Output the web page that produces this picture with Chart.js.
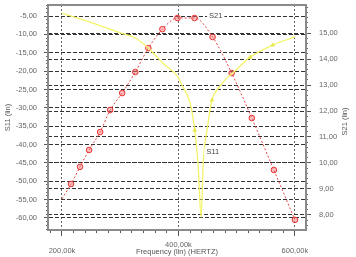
<!DOCTYPE html>
<html><head><meta charset="utf-8">
<script src="https://cdn.jsdelivr.net/npm/chart.js@4/dist/chart.umd.min.js"></script>
<style>html,body{margin:0;padding:0;background:#fff;}#wrap{width:356px;height:257px;}</style>
</head><body><div id="wrap"><canvas id="c" width="356" height="257"></canvas></div>
<script>
// ---- data ----
const xTicks = [200, 400, 600];
const s11Ticks = [-5, -10, -15, -20, -25, -30, -35, -40, -45, -50, -55, -60];
const s21Ticks = [8, 9, 10, 11, 12, 13, 14, 15];

const s11Freq = [200, 265, 300, 326, 348, 373, 399, 406, 420, 428, 433.5, 439, 442.5, 449, 457.5, 466, 480, 499, 523, 562, 600];
const s11Vals = [-4.2, -7.6, -9.6, -11.0, -13.7, -17.8, -21.6, -23.8, -28.7, -36.1, -45.0, -59.8, -45.0, -36.1, -27.9, -25.2, -22.4, -19.7, -16.2, -12.9, -10.7];
const s11Marks = [0, 0, 0, 0, 0, 0, 0, 0, 0, 1, 0, 0, 0, 0, 1, 0, 0, 0, 1, 1, 0];

const s21Freq = [200, 215.5, 231, 246.5, 265.5, 282.8, 303.4, 325.9, 348.3, 372.4, 398.3, 427.6, 458.6, 491.4, 525.9, 563.8, 600];
const s21Vals = [8.62, 9.19, 9.85, 10.5, 11.19, 12.04, 12.69, 13.5, 14.42, 15.15, 15.58, 15.58, 14.85, 13.46, 11.73, 9.73, 7.81];
const s21Marks = [0, 1, 1, 1, 1, 1, 1, 1, 1, 1, 1, 1, 1, 1, 1, 1, 1];

const noteText = ['S21', 'S11'];
const noteFreq = [464, 459];
const noteVal = [15.65, -42.0];
const noteAxis = ['y2', 'y'];

// ---- helpers ----
const FONT = 'Liberation Sans, Arial, sans-serif';
const fmt = v => Number(v).toFixed(2).replace('.', ',');
const onGrid = (v, step) => Math.abs(v / step - Math.round(v / step)) < 1e-6;
const noPad = s => { s.paddingTop = 0; s.paddingBottom = 0; };

const framePlugin = {
  id: 'frame',
  afterDatasetsDraw(chart) {
    const {ctx, chartArea: a} = chart;
    ctx.save();
    ctx.strokeStyle = '#8a8a8a';
    ctx.lineWidth = 2;
    ctx.strokeRect(a.left, a.top, a.right - a.left, a.bottom - a.top);
    ctx.restore();
  }
};
const notesPlugin = {
  id: 'notes',
  afterDatasetsDraw(chart) {
    const {ctx, scales} = chart;
    ctx.save();
    ctx.font = '7.5px ' + FONT;
    ctx.textAlign = 'center';
    ctx.textBaseline = 'middle';
    noteText.forEach((t, i) => {
      const x = scales.x.getPixelForValue(noteFreq[i]);
      const y = scales[noteAxis[i]].getPixelForValue(noteVal[i]);
      const w = ctx.measureText(t).width;
      ctx.fillStyle = '#fff';
      ctx.fillRect(x - w / 2 - 2, y - 4, w + 4, 8);
      ctx.fillStyle = '#444';
      ctx.fillText(t, x, y);
    });
    // right axis title, reading bottom-to-top
    const s = scales.y2;
    ctx.translate(s.right - 11, (s.top + s.bottom) / 2 + 4);
    ctx.rotate(-Math.PI / 2);
    ctx.fillStyle = '#555';
    ctx.fillText('S21 (lin)', 0, 0);
    ctx.restore();
  }
};

const tickFont = {family: FONT, size: 7.5};
const X_MIN = 176, X_MAX = 619;
const Y1_MIN = -63.27, Y1_MAX = -2.0;
const Y2_MIN = 7.42, Y2_MAX = 16.08;

new Chart(document.getElementById('c'), {
  type: 'line',
  data: {
    datasets: [
      {
        label: 'S11',
        data: s11Freq.map((f, i) => ({x: f, y: s11Vals[i]})),
        xAxisID: 'x', yAxisID: 'y',
        borderColor: '#f4f468', borderWidth: 1.3,
        pointRadius: s11Marks.map(m => m ? 2 : 0),
        pointStyle: 'triangle',
        pointBackgroundColor: '#eeee55', pointBorderColor: '#e6e650', pointBorderWidth: 1,
        cubicInterpolationMode: 'monotone', fill: false
      },
      {
        label: 'S21',
        data: s21Freq.map((f, i) => ({x: f, y: s21Vals[i]})),
        xAxisID: 'x', yAxisID: 'y2',
        borderColor: '#e84444', borderWidth: 1, borderDash: [2, 2],
        pointRadius: s21Marks.map(m => m ? 2.8 : 0),
        pointStyle: 'circle',
        pointBackgroundColor: 'rgba(250,120,120,0.45)', pointBorderColor: '#e43030', pointBorderWidth: 1,
        cubicInterpolationMode: 'monotone', fill: false
      }
    ]
  },
  options: {
    responsive: false, animation: false,
    layout: {padding: {top: 5, left: 0, right: 0, bottom: 0}},
    plugins: {legend: {display: false}, tooltip: {enabled: false}},
    scales: {
      x: {
        type: 'linear', position: 'bottom', weight: 1, min: X_MIN, max: X_MAX,
        afterBuildTicks: s => { s.ticks = xTicks.map(v => ({value: v})); },
        ticks: {
          callback: (v) => v === 400 ? [fmt(v) + 'k', ''] : fmt(v) + 'k',
          font: {family: FONT, size: 7.5, lineHeight: '6px'}, color: '#666',
          padding: 8.5, maxRotation: 0, autoSkip: false, crossAlign: 'far'
        },
        grid: {color: '#666', tickLength: 6, tickColor: '#555'},
        border: {display: true, color: '#8a8a8a', width: 2, dash: [2, 2]},
        title: {display: true, text: 'Frequency (lin) (HERTZ)', font: tickFont, color: '#555', padding: {top: 0, bottom: 0.5}},
        afterFit: s => { s.height = 27; }
      },
      xm: {
        type: 'linear', position: 'bottom', weight: -1, min: X_MIN, max: X_MAX,
        ticks: {display: false, stepSize: 20, includeBounds: false},
        afterBuildTicks: s => { s.ticks = s.ticks.filter(t => onGrid(t.value, 20) && t.value >= X_MIN && t.value <= X_MAX); },
        grid: {drawOnChartArea: false, tickLength: 3, color: '#555'},
        border: {display: false},
        afterFit: s => { s.height = 0; }
      },
      y: {
        type: 'linear', position: 'left', weight: 1, min: Y1_MIN, max: Y1_MAX,
        afterBuildTicks: s => { s.ticks = s11Ticks.map(v => ({value: v})); },
        ticks: {callback: v => fmt(v), font: tickFont, color: '#666', padding: 7},
        grid: {color: '#333', tickLength: 4, tickColor: '#555'},
        border: {display: true, color: '#8a8a8a', width: 2, dash: [4, 2]},
        title: {display: true, text: 'S11 (lin)', font: tickFont, color: '#555', padding: {top: 3.5, bottom: 0}},
        afterFit: s => { s.width = 48; noPad(s); }
      },
      ym: {
        type: 'linear', position: 'left', weight: -1, min: Y1_MIN, max: Y1_MAX,
        ticks: {display: false, stepSize: 1, includeBounds: false},
        afterBuildTicks: s => { s.ticks = s.ticks.filter(t => onGrid(t.value, 1) && t.value >= Y1_MIN && t.value <= Y1_MAX); },
        grid: {drawOnChartArea: false, tickLength: 2, color: '#666'},
        border: {display: false},
        afterFit: s => { s.width = 0; noPad(s); }
      },
      y2: {
        type: 'linear', position: 'right', weight: 1, min: Y2_MIN, max: Y2_MAX,
        afterBuildTicks: s => { s.ticks = s21Ticks.map(v => ({value: v})); },
        ticks: {callback: v => fmt(v), font: tickFont, color: '#666', padding: 8},
        grid: {color: '#333', tickLength: 5, tickColor: '#555'},
        border: {display: true, color: '#8a8a8a', width: 2, dash: [4, 2]},
        title: {display: false},
        afterFit: s => { s.width = 50; noPad(s); }
      },
      y2m: {
        type: 'linear', position: 'right', weight: -1, min: Y2_MIN, max: Y2_MAX,
        ticks: {display: false, stepSize: 0.2, includeBounds: false},
        afterBuildTicks: s => { s.ticks = s.ticks.filter(t => onGrid(t.value, 0.2) && t.value >= Y2_MIN && t.value <= Y2_MAX); },
        grid: {drawOnChartArea: false, tickLength: 2, color: '#666'},
        border: {display: false},
        afterFit: s => { s.width = 0; noPad(s); }
      }
    }
  },
  plugins: [framePlugin, notesPlugin]
});
</script>
</body></html>
